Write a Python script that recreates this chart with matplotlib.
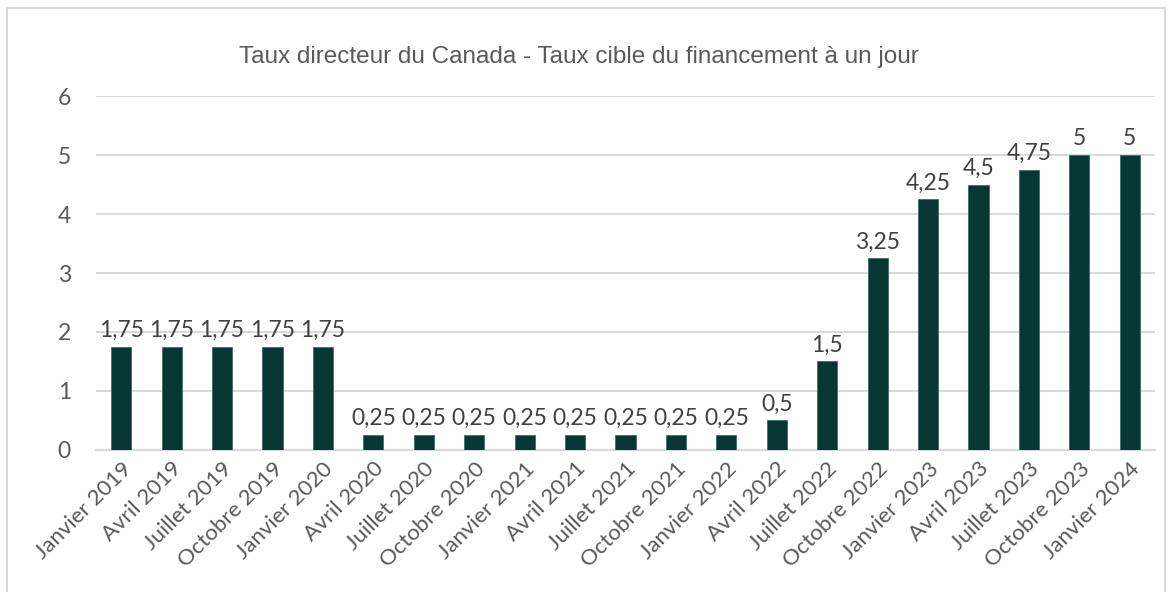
import matplotlib
matplotlib.use("Agg")
import matplotlib.pyplot as plt
from matplotlib.patches import Rectangle

# données
periodes = ["Janvier 2019", "Avril 2019", "Juillet 2019", "Octobre 2019",
            "Janvier 2020", "Avril 2020", "Juillet 2020", "Octobre 2020",
            "Janvier 2021", "Avril 2021", "Juillet 2021", "Octobre 2021",
            "Janvier 2022", "Avril 2022", "Juillet 2022", "Octobre 2022",
            "Janvier 2023", "Avril 2023", "Juillet 2023", "Octobre 2023",
            "Janvier 2024"]
taux = [1.75, 1.75, 1.75, 1.75, 1.75, 0.25, 0.25, 0.25, 0.25, 0.25, 0.25,
        0.25, 0.25, 0.5, 1.5, 3.25, 4.25, 4.5, 4.75, 5, 5]
y_ticks = [0, 1, 2, 3, 4, 5, 6]

gris = "#595959"
vert = "#063733"
police = ["Lato", "DejaVu Sans"]

fig = plt.figure(figsize=(11.75, 5.92), dpi=100)
ax = fig.add_axes([0.0817, 0.2399, 0.9013, 0.5979])

# cadre autour du graphique
fig.patches.append(Rectangle((7 / 1175, -0.1), 1158 / 1175, 1 - 8 / 592 + 0.1,
                             transform=fig.transFigure, fill=False,
                             edgecolor="#d9d9d9", linewidth=1.5))

x = range(len(periodes))
barres = ax.bar(x, taux, width=0.4, color=vert, edgecolor="#3f6e69",
                linewidth=0.6, zorder=3)

# étiquettes de données
for xi, v in zip(x, taux):
    etiquette = f"{v:g}".replace(".", ",")
    ax.text(xi, v + 0.1, etiquette, ha="center", va="bottom",
            fontsize=16.5, color="#404040", family=police)

ax.set_xlim(-0.5, len(periodes) - 0.5)
ax.set_ylim(0, 6)
ax.set_yticks(y_ticks)
ax.set_yticklabels([str(t) for t in y_ticks], fontsize=16.5, color=gris,
                   family=police)
ax.set_xticks(list(x))
ax.set_xticklabels(periodes, rotation=45, ha="right", rotation_mode="anchor",
                   fontsize=16, color=gris, family=police)
ax.tick_params(axis="both", length=0)
ax.tick_params(axis="y", pad=18)
ax.tick_params(axis="x", pad=6)

ax.grid(axis="y", color="#d9d9d9", linewidth=1.5, zorder=0)
for cote in ["top", "right", "left"]:
    ax.spines[cote].set_visible(False)
ax.spines["bottom"].set_color("#d9d9d9")
ax.spines["bottom"].set_linewidth(1.5)

fig.text(579 / 1175, 1 - 57 / 592,
         "Taux directeur du Canada - Taux cible du financement à un jour",
         ha="center", va="center", fontsize=17.5, color=gris,
         family=["Liberation Sans Narrow", "Liberation Sans", "DejaVu Sans"])

fig.savefig("out.png", dpi=100, facecolor="white")
